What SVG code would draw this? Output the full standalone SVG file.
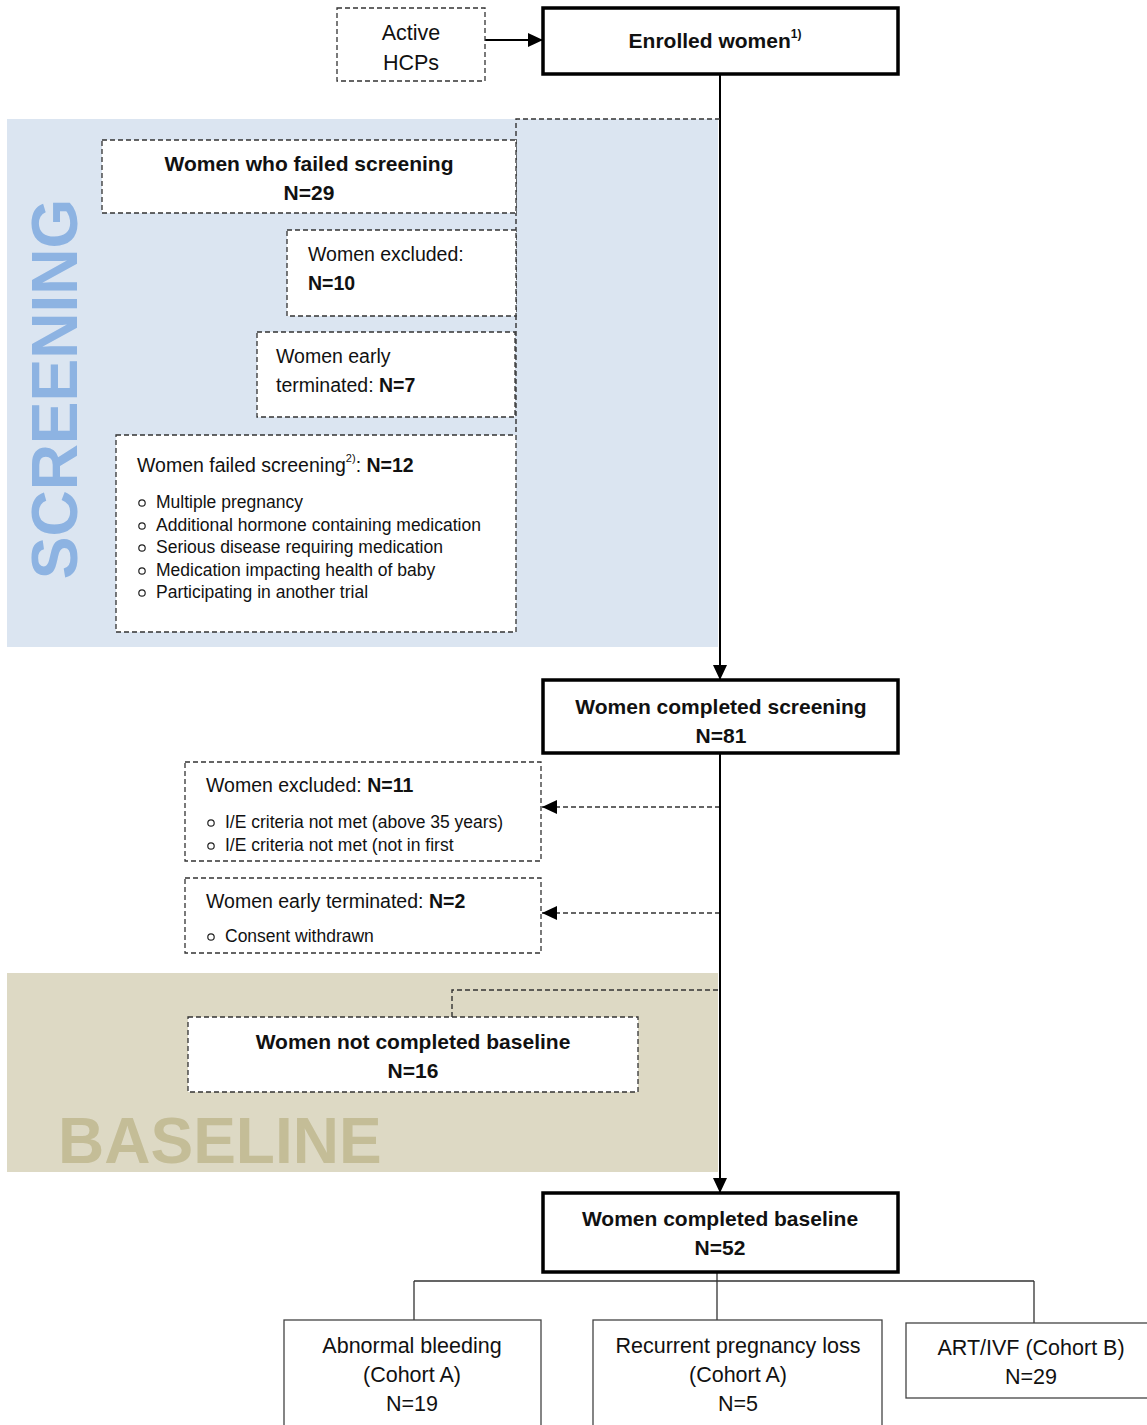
<svg xmlns="http://www.w3.org/2000/svg" width="1147" height="1425" viewBox="0 0 1147 1425">
<defs>
<style>
text{font-family:"Liberation Sans",Arial,sans-serif;fill:#111}
.b{font-weight:bold}
.h{font-size:21px;font-weight:bold}
.t{font-size:19.5px}
.l{font-size:17.5px}
.n{font-size:21.5px}
.c{text-anchor:middle}
.dash{fill:#fff;stroke:#333;stroke-width:1.3;stroke-dasharray:5 3}
.thick{fill:#fff;stroke:#000;stroke-width:3.5}
.thin{fill:#fff;stroke:#444;stroke-width:1.3}
.bul{fill:none;stroke:#222;stroke-width:1.2}
.con{fill:none;stroke:#000;stroke-width:2}
.cond{fill:none;stroke:#333;stroke-width:1.4;stroke-dasharray:5 3}
.tree{fill:none;stroke:#333;stroke-width:1.3}
</style>
<marker id="ah" markerUnits="userSpaceOnUse" markerWidth="16" markerHeight="16" viewBox="0 0 16 16" refX="15" refY="8" orient="auto">
<path d="M0,1 L15,8 L0,15 Z" fill="#000"/>
</marker>
</defs>

<g id="regions">
<rect x="7" y="119" width="711" height="528" fill="#dbe5f1"/>
<text class="b" transform="translate(77,389) rotate(-90)" text-anchor="middle" style="font-size:64px;fill:#8db3e2">SCREENING</text>
<rect x="7" y="973" width="711" height="199" fill="#ddd9c4"/>
<text class="b" x="58" y="1163" style="font-size:64px;fill:#c4bd97">BASELINE</text>
</g>

<g id="connectors">
<line class="con" x1="485" y1="40" x2="543" y2="40" stroke-width="1.6" marker-end="url(#ah)"/>
<line class="con" x1="720" y1="74" x2="720" y2="680" marker-end="url(#ah)"/>
<path class="cond" d="M720,119 H516 V435"/>
<line class="cond" x1="720" y1="807" x2="542" y2="807" marker-end="url(#ah)"/>
<line class="cond" x1="720" y1="913" x2="542" y2="913" marker-end="url(#ah)"/>
<path class="cond" d="M718,990 H452 V1017"/>
<line class="con" x1="720" y1="753" x2="720" y2="1193" marker-end="url(#ah)"/>
<path class="tree" d="M717,1272 V1320 M414,1281 H1034 M414,1281 V1320 M1034,1281 V1323"/>
</g>

<g id="active-hcps">
<rect class="dash" x="337" y="8" width="148" height="73"/>
<text class="n c" x="411" y="40">Active</text>
<text class="n c" x="411" y="70">HCPs</text>
</g>

<g id="enrolled">
<rect class="thick" x="543" y="8" width="355" height="66"/>
<text class="h c" x="715" y="48">Enrolled women<tspan font-size="12" dy="-10">1)</tspan></text>
</g>

<g id="failed-screening-total">
<rect class="dash" x="102" y="140" width="414" height="73"/>
<text class="h c" x="309" y="171">Women who failed screening</text>
<text class="h c" x="309" y="200">N=29</text>
</g>

<g id="excluded-10">
<rect class="dash" x="287" y="230" width="229" height="86"/>
<text class="t" x="308" y="261">Women excluded:</text>
<text class="t b" x="308" y="290">N=10</text>
</g>

<g id="terminated-7">
<rect class="dash" x="257" y="332" width="258" height="85"/>
<text class="t" x="276" y="363">Women early</text>
<text class="t" x="276" y="392">terminated: <tspan class="b">N=7</tspan></text>
</g>

<g id="failed-12">
<rect class="dash" x="116" y="435" width="400" height="197"/>
<text class="t" x="137" y="472">Women failed screening<tspan font-size="11" dy="-10">2)</tspan><tspan dy="10">: </tspan><tspan class="b">N=12</tspan></text>
<circle class="bul" cx="142" cy="503" r="3.2"/>
<text class="l" x="156" y="508">Multiple pregnancy</text>
<circle class="bul" cx="142" cy="526" r="3.2"/>
<text class="l" x="156" y="531">Additional hormone containing medication</text>
<circle class="bul" cx="142" cy="548" r="3.2"/>
<text class="l" x="156" y="553">Serious disease requiring medication</text>
<circle class="bul" cx="142" cy="571" r="3.2"/>
<text class="l" x="156" y="576">Medication impacting health of baby</text>
<circle class="bul" cx="142" cy="593" r="3.2"/>
<text class="l" x="156" y="598">Participating in another trial</text>
</g>

<g id="completed-screening">
<rect class="thick" x="543" y="680" width="355" height="73"/>
<text class="h c" x="721" y="714">Women completed screening</text>
<text class="h c" x="721" y="743">N=81</text>
</g>

<g id="excluded-11">
<rect class="dash" x="185" y="762" width="356" height="99"/>
<text class="t" x="206" y="792">Women excluded: <tspan class="b">N=11</tspan></text>
<circle class="bul" cx="211" cy="823" r="3.2"/>
<text class="l" x="225" y="828">I/E criteria not met (above 35 years)</text>
<circle class="bul" cx="211" cy="846" r="3.2"/>
<text class="l" x="225" y="851">I/E criteria not met (not in first</text>
</g>

<g id="terminated-2">
<rect class="dash" x="185" y="878" width="356" height="75"/>
<text class="t" x="206" y="908">Women early terminated: <tspan class="b">N=2</tspan></text>
<circle class="bul" cx="211" cy="937" r="3.2"/>
<text class="l" x="225" y="942">Consent withdrawn</text>
</g>

<g id="not-completed-baseline">
<rect class="dash" x="188" y="1017" width="450" height="75"/>
<text class="h c" x="413" y="1049">Women not completed baseline</text>
<text class="h c" x="413" y="1078">N=16</text>
</g>

<g id="completed-baseline">
<rect class="thick" x="543" y="1193" width="355" height="79"/>
<text class="h c" x="720" y="1226">Women completed baseline</text>
<text class="h c" x="720" y="1255">N=52</text>
</g>

<g id="abnormal-bleeding">
<rect class="thin" x="284" y="1320" width="257" height="120"/>
<text class="n c" x="412" y="1353">Abnormal bleeding</text>
<text class="n c" x="412" y="1382">(Cohort A)</text>
<text class="n c" x="412" y="1411">N=19</text>
</g>

<g id="recurrent-loss">
<rect class="thin" x="593" y="1320" width="289" height="120"/>
<text class="n c" x="738" y="1353">Recurrent pregnancy loss</text>
<text class="n c" x="738" y="1382">(Cohort A)</text>
<text class="n c" x="738" y="1411">N=5</text>
</g>

<g id="art-ivf">
<rect class="thin" x="906" y="1323" width="250" height="75"/>
<text class="n c" x="1031" y="1355">ART/IVF (Cohort B)</text>
<text class="n c" x="1031" y="1384">N=29</text>
</g>
</svg>
